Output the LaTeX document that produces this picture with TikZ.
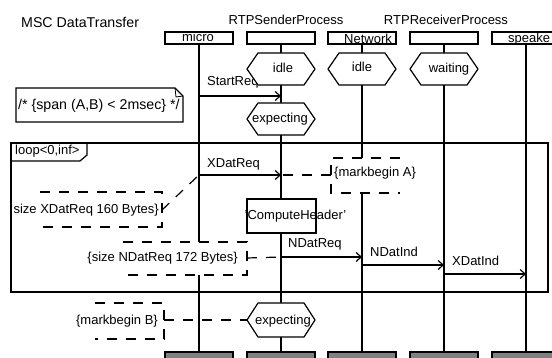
\documentclass[tikz,border=0pt]{standalone}
\usepackage{fontspec}
\setmainfont{Liberation Sans}
\usetikzlibrary{arrows.meta}
\definecolor{ftgray}{HTML}{808080}
\begin{document}
\begin{tikzpicture}[x=1pt,y=-1pt,
  ln/.style={line width=1.2pt},
  dsh/.style={line width=1.2pt, dash pattern=on 10pt off 9pt},
  msg/.style={line width=1.2pt, -{Straight Barb[length=5pt,width=9pt]}},
  hdr/.style={draw, line width=1.2pt, fill=white, minimum width=68pt, minimum height=12pt, inner sep=0pt},
  ftr/.style={draw, line width=1.2pt, fill=ftgray, minimum width=68pt, minimum height=14pt, inner sep=0pt},
  txt/.style={inner sep=0pt, font=\fontsize{13}{15}\selectfont},
  bigtxt/.style={inner sep=0pt, font=\fontsize{14.2}{16}\selectfont},
  hexsh/.style={draw, fill=white, line width=1.2pt},
  actbox/.style={draw, fill=white, line width=1.2pt, minimum width=69pt, minimum height=34pt, inner sep=0pt}]
\useasboundingbox (0,0) rectangle (552,358);
\fill[white] (0,0) rectangle (552,358);

% titles
\node[bigtxt, anchor=base west] (title) at (21,28) {MSC DataTransfer};
\node[txt, anchor=base] (sendtitle) at (286,25) {RTPSenderProcess};
\node[txt, anchor=base] (recvtitle) at (446,25) {RTPReceiverProcess};

% header and footer boxes
\node[hdr] (hm) at (199,38) {};
\node[hdr] (hs) at (281,38) {};
\node[hdr] (hn) at (362,38) {};
\node[hdr] (hr) at (444,38) {};
\node[hdr] (hk) at (526,38) {};
\node[ftr] (fm) at (199,359) {};
\node[ftr] (fs) at (281,359) {};
\node[ftr] (fn) at (362,359) {};
\node[ftr] (fr) at (444,359) {};
\node[ftr] (fk) at (526,359) {};

% lifelines
\draw[ln] (hm.south) -- (fm.north);
\draw[ln] (hs.south) -- (fs.north);
\draw[ln] (hn.south) -- (fn.north);
\draw[ln] (hr.south) -- (fr.north);
\draw[ln] (hk.south) -- (fk.north);

\node[txt, anchor=base] (lmicro) at (198,42) {micro};
\node[txt, anchor=base west] (lnet) at (344,43.5) {Network};
\node[txt, anchor=base west] (lspk) at (508,43) {speake};

% message end points
\coordinate (m1s) at (199,96);  \coordinate (m1e) at (281,96);
\coordinate (m2s) at (199,175); \coordinate (m2e) at (281,175);
\coordinate (m3s) at (281,257); \coordinate (m3e) at (362,257);
\coordinate (m4s) at (362,265); \coordinate (m4e) at (444,265);
\coordinate (m5s) at (444,274); \coordinate (m5e) at (526,274);

\draw[msg] (m1s) -- (m1e);
\draw[msg] (m2s) -- (m2e);
\draw[msg] (m3s) -- (m3e);
\draw[msg] (m4s) -- (m4e);
\draw[msg] (m5s) -- (m5e);
\node[txt, anchor=base west] (t1) at (207,86) {StartReq};
\node[txt, anchor=base west] (t2) at (207,168) {XDatReq};
\node[txt, anchor=base west] (t3) at (288,248) {NDatReq};
\node[txt, anchor=base west] (t4) at (370,257) {NDatInd};
\node[txt, anchor=base west] (t5) at (452,266) {XDatInd};

% note comment
\draw[ln, fill=white] (16,88) -- (175,88) -- (183,96) -- (183,122) -- (16,122) -- cycle;
\draw[line width=0.8pt] (175,88) -- (176,97) -- (183,96);
\node[bigtxt, anchor=base west] (note) at (18,110) {/* \{span (A,B) < 2msec\} */};

% comment markbegin A
\fill[white] (331,158) rectangle (400,193);
\draw[dsh] (400,158) -- (331,158) -- (331,193) -- (400,193);
\coordinate (cA) at (331,175);
\draw[dsh] (cA) -- (m2e);
\node[txt, anchor=base west] (tA) at (334,177) {\{markbegin A\}};

% comment size XDatReq
\fill[white] (12,192) rectangle (162,227);
\draw[dsh] (40,192) -- (162,192) -- (162,227) -- (40,227);
\coordinate (cX) at (162,210);
\draw[dsh] (cX) -- (m2s);
\node[txt, anchor=base east] (tX) at (159,214) {size XDatReq 160 Bytes\}};

% comment size NDatReq
\fill[white] (82,242) rectangle (247,275);
\draw[dsh] (123,242) -- (247,242) -- (247,275) -- (123,275);
\coordinate (cN) at (247,258);
\draw[dsh] (cN) -- (m3s);
\node[txt, anchor=base east] (tN) at (238,262) {\{size NDatReq 172 Bytes\}};

% loop frame
\draw[ln] (11,143) rectangle (548,292);
\draw[ln] (11,143) -- (87,143) -- (87,155) -- (80,161) -- (11,161);
\node[txt, anchor=base west] (looplbl) at (15,155) {loop<0,inf>};

% hexagon conditions
\path[hexsh, shift={(281,69)}] (-34,0) -- (-23,-16) -- (23,-16) -- (34,0) -- (23,16) -- (-23,16) -- cycle;
\node[txt, anchor=base] (c1) at (283,73) {idle};
\path[hexsh, shift={(362,69)}] (-34,0) -- (-23,-16) -- (23,-16) -- (34,0) -- (23,16) -- (-23,16) -- cycle;
\node[txt, anchor=base] (c2) at (362,72) {idle};
\path[hexsh, shift={(444,69)}] (-34,0) -- (-23,-16) -- (23,-16) -- (34,0) -- (23,16) -- (-23,16) -- cycle;
\node[txt, anchor=base] (c3) at (449,73) {waiting};
\path[hexsh, shift={(281,119)}] (-34,0) -- (-23,-16) -- (23,-16) -- (34,0) -- (23,16) -- (-23,16) -- cycle;
\node[txt, anchor=base] (c4) at (280,123) {expecting};

% action
\node[actbox] (act) at (281.5,216) {};
\node[txt, anchor=base] (acttxt) at (295.5,220) {'ComputeHeader'};

% bottom condition and comment B
\coordinate (expw) at (247,320);
\fill[white] (75,303) rectangle (164,339);
\draw[dsh] (95,303) -- (164,303) -- (164,339) -- (95,339);
\coordinate (cB) at (164,320);
\draw[dsh] (cB) -- (expw);
\node[txt, anchor=base east] (tB) at (158,324) {\{markbegin B\}};
\path[hexsh, shift={(281,320)}] (-34,0) -- (-23,-17) -- (23,-17) -- (34,0) -- (23,17) -- (-23,17) -- cycle;
\node[txt, anchor=base] (c5) at (283,324) {expecting};
\end{tikzpicture}
\end{document}
